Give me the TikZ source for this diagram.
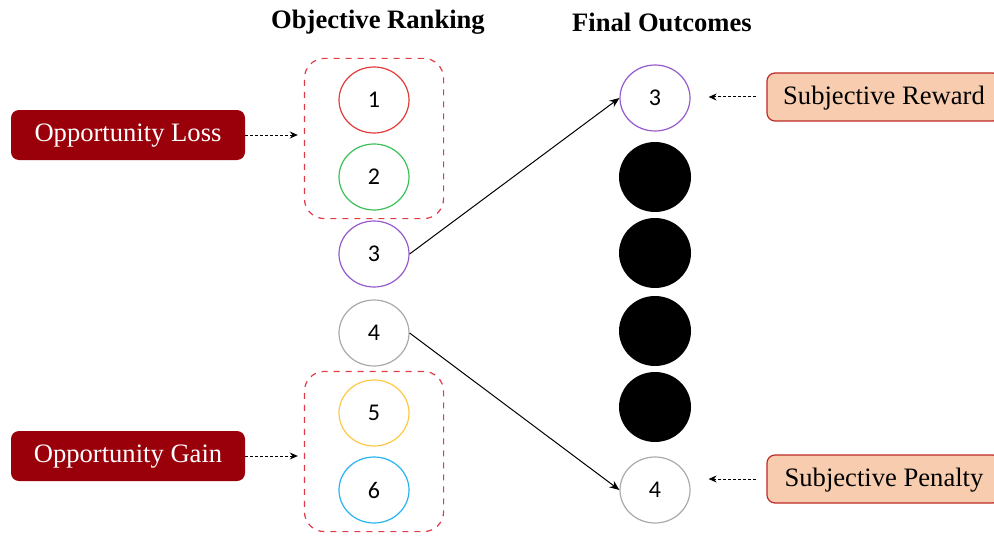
\documentclass[tikz,border=0pt]{standalone}
\usepackage{fontspec}
\setmainfont{Liberation Serif}
\newfontfamily\numfont{Carlito}
\usetikzlibrary{positioning, arrows.meta, shapes.geometric, fit}
\definecolor{lossred}{RGB}{154, 0, 10}
\definecolor{peach}{RGB}{248, 204, 174}
\definecolor{peachborder}{RGB}{190, 40, 40}
\definecolor{groupred}{RGB}{222, 60, 70}
\definecolor{rankone}{RGB}{224, 60, 60}
\definecolor{ranktwo}{RGB}{60, 192, 90}
\definecolor{rankthree}{RGB}{150, 90, 205}
\definecolor{rankfour}{RGB}{170, 170, 170}
\definecolor{rankfive}{RGB}{255, 200, 70}
\definecolor{ranksix}{RGB}{40, 180, 240}

\begin{document}
\begin{tikzpicture}[
    x=0.5pt, y=-0.5pt,
    rank/.style={ellipse, draw, line width=0.6pt, minimum width=35pt, minimum height=33pt, inner sep=0pt, font=\numfont\fontsize{12}{14}\selectfont},
    hidden/.style={ellipse, fill=black, minimum width=36pt, minimum height=35pt, inner sep=0pt},
    darkbox/.style={rectangle, fill=lossred, rounded corners=4pt, minimum width=117pt, minimum height=25pt, text=white, text depth=2pt, font=\fontsize{13.3}{16}\selectfont},
    lightbox/.style={rectangle, draw=peachborder, fill=peach, line width=0.6pt, rounded corners=4pt, minimum width=117pt, minimum height=24pt, text depth=2pt, font=\fontsize{13.3}{16}\selectfont},
    group/.style={draw=groupred, dashed, line width=0.6pt, rounded corners=10pt, inner xsep=17pt, inner ysep=4pt},
    title/.style={font=\bfseries\fontsize{13.3}{16}\selectfont},
    arrow/.style={-{Stealth[length=5pt, width=4pt]}, line width=0.5pt},
    dashedarrow/.style={-{Stealth[length=4pt, width=3.5pt]}, line width=0.5pt, dashed, dash pattern=on 1.5pt off 1pt},
]
\useasboundingbox (0,0) rectangle (994,535);

% ============ titles ============
\node[title] (rank_title) at (378,22) {Objective Ranking};
\node[title] (final_title) at (662,22) {Final Outcomes};

% ============ objective ranking ============
\node[rank, draw=rankone] (obj1) at (374,100) {1};
\node[rank, draw=ranktwo] (obj2) at (374,177) {2};
\node[rank, draw=rankthree] (obj3) at (374,254) {3};
\node[rank, draw=rankfour] (obj4) at (374,333) {4};
\node[rank, draw=rankfive] (obj5) at (374,413) {5};
\node[rank, draw=ranksix] (obj6) at (374,490) {6};

\node[group, fit={(obj1) (obj2)}] (top_group) {};
\node[group, fit={(obj5) (obj6)}] (bottom_group) {};

% ============ final outcomes ============
\node[rank, draw=rankthree] (fin3) at (655,98) {3};
\node[hidden] (hid1) at (655,177) {};
\node[hidden] (hid2) at (655,253) {};
\node[hidden] (hid3) at (655,331) {};
\node[hidden] (hid4) at (655,407) {};
\node[rank, draw=rankfour] (fin4) at (655,490) {4};

% ============ labels ============
\node[darkbox] (opp_loss) at (128,135) {Opportunity Loss};
\node[darkbox] (opp_gain) at (128,456) {Opportunity Gain};
\node[lightbox] (subj_reward) at (884,97) {Subjective Reward};
\node[lightbox] (subj_penalty) at (884,479) {Subjective Penalty};

% ============ arrows ============
\draw[arrow] (obj3.east) -- (fin3.west);
\draw[arrow] (obj4.east) -- (fin4.west);

\draw[dashedarrow, shorten >=3pt] (opp_loss) -- (opp_loss -| top_group.west);
\draw[dashedarrow, shorten >=3pt] (opp_gain) -- (opp_gain -| bottom_group.west);
\draw[dashedarrow, shorten <=5pt, shorten >=9pt] (subj_reward.west) -- (subj_reward -| fin3.east);
\draw[dashedarrow, shorten <=5pt, shorten >=9pt] (subj_penalty.west) -- (subj_penalty -| fin4.east);

\end{tikzpicture}
\end{document}
